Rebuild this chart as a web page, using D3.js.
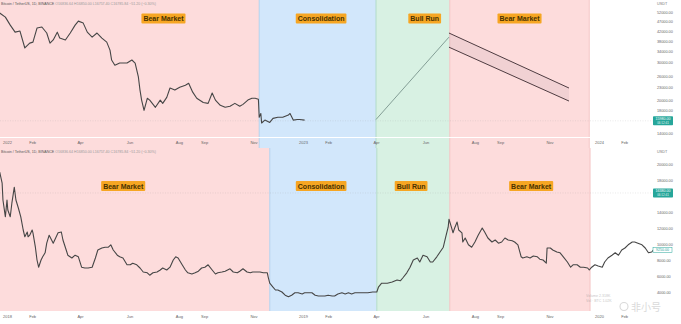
<!DOCTYPE html>
<html>
<head>
<meta charset="utf-8">
<script src="https://cdn.jsdelivr.net/npm/d3@7.9.0/dist/d3.min.js"></script>
<style>
  body { margin: 0; background: #fff; }
  svg { display: block; font-family: "Liberation Sans", Arial, sans-serif; }
</style>
</head>
<body>
<svg id="chart" width="681" height="324"></svg>
<script>
const parse = d3.timeParse("%Y-%m-%d");

// phases shared by both panels
const phaseNames = ["Bear Market", "Consolidation", "Bull Run", "Bear Market"];

// ---- top panel: BTC/USDT 2022 ----
const topPhaseEdges = ["2021-12-15", "2022-11-08", "2023-04-01", "2023-07-01", "2023-12-20"];
const topTickDates = ["2022-01-01", "2022-02-01", "2022-04-01", "2022-06-01", "2022-08-01", "2022-09-01", "2022-11-01",
  "2023-01-01", "2023-02-01", "2023-04-01", "2023-06-01", "2023-08-01", "2023-09-01", "2023-11-01", "2024-01-01", "2024-02-01"];
const topPriceTicks = [14000, 18000, 20000, 23000, 26000, 30000, 34000, 38000, 42000, 47000, 52000];
const topPrices = [
  ["2021-12-23", 51400], ["2021-12-30", 49200], ["2022-01-05", 45100], ["2022-01-11", 41800], ["2022-01-17", 42300],
  ["2022-01-23", 35200], ["2022-01-29", 37100], ["2022-02-02", 37500], ["2022-02-07", 43700], ["2022-02-13", 44200],
  ["2022-02-19", 41400], ["2022-02-23", 37100], ["2022-02-27", 38400], ["2022-03-04", 41800], ["2022-03-07", 39200],
  ["2022-03-14", 38400], ["2022-03-20", 41400], ["2022-03-26", 45100], ["2022-03-30", 47100], ["2022-04-05", 46100],
  ["2022-04-10", 41800], ["2022-04-16", 39600], ["2022-04-22", 41400], ["2022-04-28", 39200], ["2022-05-04", 37500],
  ["2022-05-08", 34400], ["2022-05-10", 30900], ["2022-05-14", 29200], ["2022-05-20", 29900], ["2022-05-29", 29900],
  ["2022-06-04", 30900], ["2022-06-08", 29900], ["2022-06-12", 25700], ["2022-06-14", 22300], ["2022-06-16", 20000],
  ["2022-06-19", 17900], ["2022-06-23", 20400], ["2022-06-26", 20000], ["2022-07-03", 18500], ["2022-07-09", 20000],
  ["2022-07-12", 19300], ["2022-07-17", 20600], ["2022-07-21", 22800], ["2022-07-27", 22300], ["2022-08-02", 23000],
  ["2022-08-09", 23500], ["2022-08-13", 24000], ["2022-08-18", 21800], ["2022-08-23", 20400], ["2022-08-31", 19500],
  ["2022-09-06", 19300], ["2022-09-11", 21600], ["2022-09-15", 20000], ["2022-09-21", 18900], ["2022-09-27", 18500],
  ["2022-10-03", 18700], ["2022-10-09", 19300], ["2022-10-15", 18700], ["2022-10-19", 19100], ["2022-10-25", 20000],
  ["2022-10-30", 20400], ["2022-11-03", 20400], ["2022-11-07", 20200], ["2022-11-08", 16600], ["2022-11-10", 17300],
  ["2022-11-11", 15600], ["2022-11-15", 16100], ["2022-11-21", 15700], ["2022-11-25", 16400], ["2022-12-01", 16600],
  ["2022-12-07", 16600], ["2022-12-14", 17000], ["2022-12-16", 17300], ["2022-12-20", 16100], ["2022-12-25", 16200],
  ["2022-12-28", 16200], ["2023-01-03", 16100]
];
const topLastPrice = 15980;
const bullRunPath = [["2023-04-01", 16200], ["2023-06-30", 39600]];
const channelUpper = [["2023-06-30", 41400], ["2023-11-25", 22800]];
const channelLower = [["2023-06-30", 35500], ["2023-11-25", 19800]];

// ---- bottom panel: BTC/USDT 2018-2019 ----
const bottomPhaseEdges = ["2017-12-15", "2018-11-21", "2019-04-02", "2019-07-01", "2019-12-21"];
const bottomTickDates = ["2018-01-01", "2018-02-01", "2018-04-01", "2018-06-01", "2018-08-01", "2018-09-01", "2018-11-01",
  "2019-01-01", "2019-02-01", "2019-04-01", "2019-06-01", "2019-08-01", "2019-09-01", "2019-11-01", "2020-01-01", "2020-02-01"];
const bottomPriceTicks = [4000, 6000, 8000, 10000, 12000, 14000, 18000, 20000];
const bottomPrices = [
  ["2017-12-23", 19000], ["2017-12-26", 17600], ["2017-12-27", 15500], ["2017-12-30", 13400], ["2018-01-01", 15500],
  ["2018-01-02", 14250], ["2018-01-05", 13400], ["2018-01-07", 15100], ["2018-01-10", 17100], ["2018-01-12", 15500],
  ["2018-01-15", 14500], ["2018-01-18", 13400], ["2018-01-21", 11750], ["2018-01-23", 10900], ["2018-01-26", 11500],
  ["2018-01-27", 10900], ["2018-01-29", 11100], ["2018-02-01", 11750], ["2018-02-02", 11400], ["2018-02-05", 9600],
  ["2018-02-07", 8000], ["2018-02-09", 7100], ["2018-02-12", 8000], ["2018-02-14", 8400], ["2018-02-17", 8900],
  ["2018-02-19", 10100], ["2018-02-22", 11100], ["2018-02-25", 10500], ["2018-02-27", 10100], ["2018-03-02", 10750],
  ["2018-03-05", 11400], ["2018-03-09", 11500], ["2018-03-11", 10500], ["2018-03-15", 9250], ["2018-03-17", 8600],
  ["2018-03-22", 8250], ["2018-03-26", 8600], ["2018-03-30", 8400], ["2018-04-03", 7100], ["2018-04-07", 7000],
  ["2018-04-11", 7000], ["2018-04-16", 7100], ["2018-04-20", 8250], ["2018-04-23", 9250], ["2018-04-28", 9500],
  ["2018-05-02", 9600], ["2018-05-06", 9600], ["2018-05-09", 9900], ["2018-05-12", 9250], ["2018-05-17", 8600],
  ["2018-05-20", 8400], ["2018-05-24", 8250], ["2018-05-29", 7400], ["2018-06-02", 7400], ["2018-06-05", 7600],
  ["2018-06-10", 7400], ["2018-06-14", 7000], ["2018-06-18", 6500], ["2018-06-23", 6400], ["2018-06-26", 6100],
  ["2018-06-30", 6400], ["2018-07-05", 6500], ["2018-07-09", 6750], ["2018-07-12", 7000], ["2018-07-17", 6750],
  ["2018-07-21", 7100], ["2018-07-25", 8000], ["2018-07-28", 8400], ["2018-07-31", 8250], ["2018-08-05", 7400],
  ["2018-08-09", 6750], ["2018-08-12", 6400], ["2018-08-17", 6250], ["2018-08-21", 6400], ["2018-08-25", 6600],
  ["2018-08-29", 7000], ["2018-09-02", 7100], ["2018-09-06", 7400], ["2018-09-11", 6750], ["2018-09-15", 6250],
  ["2018-09-18", 6400], ["2018-09-23", 6500], ["2018-09-27", 6600], ["2018-10-03", 6900], ["2018-10-07", 6500],
  ["2018-10-12", 6400], ["2018-10-15", 6600], ["2018-10-19", 6900], ["2018-10-24", 6500], ["2018-10-28", 6400],
  ["2018-10-31", 6500], ["2018-11-05", 6500], ["2018-11-09", 6500], ["2018-11-13", 6400], ["2018-11-18", 6400],
  ["2018-11-19", 5900], ["2018-11-21", 5100], ["2018-11-25", 4600], ["2018-11-28", 4250], ["2018-12-01", 4250],
  ["2018-12-06", 4000], ["2018-12-10", 3600], ["2018-12-14", 3400], ["2018-12-18", 3600], ["2018-12-22", 3900],
  ["2018-12-26", 3900], ["2018-12-31", 3750], ["2019-01-03", 3900], ["2019-01-07", 3900], ["2019-01-12", 3900],
  ["2019-01-16", 3600], ["2019-01-20", 3500], ["2019-01-24", 3500], ["2019-01-28", 3500], ["2019-02-01", 3600],
  ["2019-02-06", 3500], ["2019-02-09", 3500], ["2019-02-13", 3750], ["2019-02-18", 3900], ["2019-02-22", 3750],
  ["2019-02-26", 3900], ["2019-03-02", 3750], ["2019-03-06", 3900], ["2019-03-10", 3900], ["2019-03-16", 3900],
  ["2019-03-22", 3900], ["2019-03-28", 4000], ["2019-04-02", 4000], ["2019-04-04", 4600], ["2019-04-08", 5100],
  ["2019-04-15", 5100], ["2019-04-21", 5250], ["2019-04-27", 5500], ["2019-05-01", 5400], ["2019-05-04", 5750],
  ["2019-05-09", 6400], ["2019-05-13", 7100], ["2019-05-17", 8000], ["2019-05-22", 8250], ["2019-05-25", 7750],
  ["2019-05-29", 8600], ["2019-06-03", 8400], ["2019-06-07", 7750], ["2019-06-10", 7750], ["2019-06-15", 8400],
  ["2019-06-19", 9000], ["2019-06-23", 9600], ["2019-06-26", 10900], ["2019-06-29", 12100], ["2019-06-30", 13100],
  ["2019-07-03", 12100], ["2019-07-05", 11400], ["2019-07-07", 12000], ["2019-07-10", 12750], ["2019-07-12", 11750],
  ["2019-07-16", 11400], ["2019-07-17", 10250], ["2019-07-20", 10750], ["2019-07-24", 9900], ["2019-07-28", 9600],
  ["2019-08-01", 10250], ["2019-08-05", 11100], ["2019-08-10", 12000], ["2019-08-13", 11500], ["2019-08-17", 10750],
  ["2019-08-22", 10250], ["2019-08-26", 10500], ["2019-08-30", 10100], ["2019-09-03", 10250], ["2019-09-07", 10750],
  ["2019-09-11", 10500], ["2019-09-16", 10400], ["2019-09-19", 10250], ["2019-09-23", 9900], ["2019-09-27", 8400],
  ["2019-09-29", 8250], ["2019-10-04", 8400], ["2019-10-08", 8250], ["2019-10-12", 8500], ["2019-10-17", 8400],
  ["2019-10-20", 8100], ["2019-10-24", 8000], ["2019-10-28", 7600], ["2019-10-29", 9500], ["2019-11-02", 9500],
  ["2019-11-05", 9250], ["2019-11-10", 9000], ["2019-11-14", 8900], ["2019-11-18", 8400], ["2019-11-23", 7750],
  ["2019-11-27", 7100], ["2019-11-30", 7400], ["2019-12-05", 7400], ["2019-12-09", 7100], ["2019-12-13", 7100],
  ["2019-12-18", 7000], ["2019-12-20", 6750], ["2019-12-23", 7100], ["2019-12-27", 7400], ["2019-12-31", 7250],
  ["2020-01-05", 7100], ["2020-01-08", 7750], ["2020-01-12", 8250], ["2020-01-17", 8600], ["2020-01-21", 8900],
  ["2020-01-25", 8600], ["2020-01-29", 9250], ["2020-02-02", 9500], ["2020-02-06", 9900], ["2020-02-11", 10250],
  ["2020-02-14", 10250], ["2020-02-18", 10100], ["2020-02-23", 9900], ["2020-02-27", 9500], ["2020-03-02", 8900],
  ["2020-03-06", 9000], ["2020-03-08", 9250]
];
const bottomLivePrice = 16380;

const headerText = "Bitcoin / TetherUS, 1D, BINANCE";
const headerValues = "O16836.64  H16850.00  L16757.40  C16785.84  −51.20 (−0.30%)";

const zoneFill = ["#fddcdc", "#d2e7fb", "#d8f1e3", "#fddcdc"];
const zoneEdge = ["#f3bcbc", "#a9cdec", "#a8d8c0", "#f3bcbc"];

const svg = d3.select("#chart");
const plotRight = 655;
const fmtPrice = d3.format(".2f");
const tickFmt = d => d.getMonth() === 0 ? d3.timeFormat("%Y")(d) : d3.timeFormat("%b")(d);

function drawPanel(p) {
  const g = svg.append("g");
  const x = d3.scaleTime().domain(p.xDomain.map(parse)).range([7, 599]);
  const y = p.y;

  g.append("clipPath").attr("id", "clip-" + p.id)
    .append("rect").attr("x", 0).attr("y", p.y0).attr("width", plotRight).attr("height", p.y1 - p.y0);
  const plot = g.append("g").attr("clip-path", `url(#clip-${p.id})`);

  const zones = phaseNames.map((name, i) => ({
    name, i,
    x0: x(parse(p.edges[i])),
    x1: x(parse(p.edges[i + 1]))
  }));

  plot.selectAll("rect.zone").data(zones).join("rect")
    .attr("class", "zone")
    .attr("x", d => d.x0).attr("width", d => d.x1 - d.x0)
    .attr("y", p.y0).attr("height", p.zoneBottom - p.y0)
    .attr("fill", d => zoneFill[d.i]);

  plot.selectAll("line.edge").data(zones.slice(1)).join("line")
    .attr("class", "edge")
    .attr("x1", d => d.x0).attr("x2", d => d.x0)
    .attr("y1", p.y0).attr("y2", p.zoneBottom)
    .attr("stroke", d => zoneEdge[d.i]).attr("stroke-width", 0.8);
  plot.append("line")
    .attr("x1", zones[3].x1).attr("x2", zones[3].x1)
    .attr("y1", p.y0).attr("y2", p.zoneBottom)
    .attr("stroke", zoneEdge[3]).attr("stroke-width", 0.8);

  if (p.axisLine) {
    plot.append("line").attr("x1", 0).attr("x2", plotRight)
      .attr("y1", p.axisLine).attr("y2", p.axisLine)
      .attr("stroke", "#fff").attr("stroke-width", 1.2);
  }

  // live price dotted line
  plot.append("line")
    .attr("x1", 0).attr("x2", plotRight)
    .attr("y1", y(p.livePrice)).attr("y2", y(p.livePrice))
    .attr("stroke", "#9a9a9a").attr("stroke-opacity", 0.35)
    .attr("stroke-width", 0.6).attr("stroke-dasharray", "1,1.5");

  const line = d3.line().x(d => x(parse(d[0]))).y(d => y(d[1]));

  if (p.channel) {
    const area = [...p.channel[0], ...p.channel[1].slice().reverse()];
    plot.append("path")
      .attr("d", line(area) + "Z")
      .attr("fill", "#8a7a8a").attr("fill-opacity", 0.1);
    p.channel.forEach(c => {
      plot.append("path").attr("d", line(c))
        .attr("fill", "none").attr("stroke", "#3b2a30").attr("stroke-width", 0.9);
    });
  }
  if (p.bull) {
    plot.append("path").attr("d", line(p.bull))
      .attr("fill", "none").attr("stroke", "#5f7a74").attr("stroke-width", 0.7);
  }

  plot.append("path").datum(p.prices)
    .attr("d", line)
    .attr("fill", "none")
    .attr("stroke", "#464646")
    .attr("stroke-width", 1.1)
    .attr("stroke-linejoin", "round");

  // zone labels
  zones.forEach(z => {
    const cx = z.x0 + (z.x1 - z.x0) * p.labelFrac[z.i];
    const lg = g.append("g").attr("transform", `translate(${cx},${p.labelY})`);
    const box = lg.append("rect").attr("fill", "#f6a623").attr("rx", 1);
    const t = lg.append("text")
      .attr("text-anchor", "middle").attr("dy", "0.36em")
      .attr("font-size", 7).attr("font-weight", "bold")
      .attr("fill", "#4a3200")
      .text(z.name);
    const w = t.node().getComputedTextLength() + 4;
    box.attr("x", -w / 2).attr("y", -5).attr("width", w).attr("height", 10);
  });

  // x axis
  const xa = g.append("g")
    .attr("transform", `translate(0,${p.xAxisY})`)
    .call(d3.axisBottom(x).tickValues(p.ticks.map(parse)).tickFormat(tickFmt).tickSize(0));
  xa.select(".domain").remove();
  xa.selectAll("text").attr("font-size", 4).attr("fill", "#666").attr("dy", "0.35em").attr("y", 0);

  // y axis
  const ya = g.append("g")
    .attr("transform", `translate(${plotRight},0)`)
    .call(d3.axisRight(y).tickValues(p.priceTicks).tickFormat(fmtPrice).tickSize(0));
  ya.select(".domain").remove();
  ya.selectAll("text").attr("font-size", 3.8).attr("fill", "#666").attr("x", 2);

  g.append("text").attr("x", 657).attr("y", p.y0 + 4.5)
    .attr("font-size", 3.8).attr("fill", "#777").text("USDT");

  // live price tag
  const tag = g.append("g").attr("transform", `translate(653,${y(p.livePrice)})`);
  tag.append("rect").attr("x", 0).attr("y", -4.5).attr("width", 20).attr("height", 9)
    .attr("fill", "#26a69a").attr("rx", 0.8);
  tag.append("text").attr("x", 10).attr("y", -1).attr("text-anchor", "middle")
    .attr("font-size", 3.6).attr("fill", "#fff").text(fmtPrice(p.livePrice));
  tag.append("text").attr("x", 10).attr("y", 3).attr("text-anchor", "middle")
    .attr("font-size", 3).attr("fill", "#e0f5f2").text("06:12:41");

  if (p.lastTag) {
    const last = p.prices[p.prices.length - 1][1];
    const lt = g.append("g").attr("transform", `translate(653,${y(last)})`);
    lt.append("rect").attr("x", 0).attr("y", -2.6).attr("width", 19).attr("height", 5.2)
      .attr("fill", "#fff").attr("stroke", "#26a69a").attr("stroke-width", 0.5);
    lt.append("text").attr("x", 9.5).attr("y", 1.3).attr("text-anchor", "middle")
      .attr("font-size", 3.6).attr("fill", "#26a69a").text(fmtPrice(last));
  }

  // header
  const h = g.append("text").attr("x", 1).attr("y", p.y0 + 4.5).attr("font-size", 3.6);
  h.append("tspan").attr("fill", "#555").text(headerText + "  ");
  h.append("tspan").attr("fill", "#9a9a9a").text(headerValues);
}

drawPanel({
  id: "top", y0: 0, y1: 148, zoneBottom: 148, axisLine: 137.5, xAxisY: 143,
  xDomain: ["2022-01-01", "2024-01-01"],
  y: d3.scaleLog().domain([14000, 52000]).range([133, 12]),
  edges: topPhaseEdges, ticks: topTickDates, priceTicks: topPriceTicks,
  prices: topPrices, livePrice: topLastPrice,
  bull: bullRunPath, channel: [channelUpper, channelLower],
  labelFrac: [0.64, 0.53, 0.66, 0.5], labelY: 18.5
});

drawPanel({
  id: "bottom", y0: 148, y1: 311, zoneBottom: 311, xAxisY: 316.5,
  xDomain: ["2018-01-01", "2020-01-01"],
  y: d3.scaleLinear().domain([4000, 20000]).range([292, 164]),
  edges: bottomPhaseEdges, ticks: bottomTickDates, priceTicks: bottomPriceTicks,
  prices: bottomPrices, livePrice: bottomLivePrice, lastTag: true,
  labelFrac: [0.47, 0.48, 0.47, 0.58], labelY: 186
});

// watermark in the bottom right corner
const wm = svg.append("g").attr("opacity", 0.55);
wm.append("text").attr("x", 586).attr("y", 297).attr("font-size", 3.6).attr("fill", "#999").text("Volume   2.318K");
wm.append("text").attr("x", 586).attr("y", 302).attr("font-size", 3.6).attr("fill", "#999").text("Vol · BTC   1.02K");
wm.append("circle").attr("cx", 624).attr("cy", 306.5).attr("r", 4).attr("fill", "none").attr("stroke", "#bbb").attr("stroke-width", 1.1);
wm.append("text").attr("x", 631).attr("y", 311).attr("font-size", 10)
  .attr("font-family", "Noto Sans CJK SC").attr("fill", "#bbb").text("非小号");
</script>
</body>
</html>
